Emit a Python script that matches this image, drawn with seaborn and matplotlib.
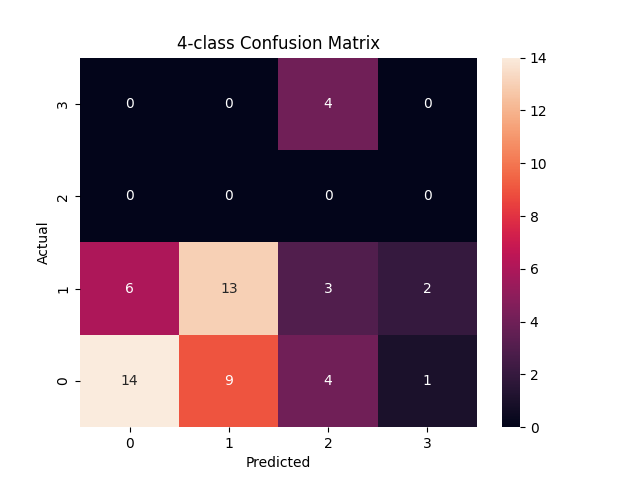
import matplotlib
matplotlib.use("Agg")
import matplotlib.pyplot as plt
import seaborn as sns
import numpy as np

classes = [0, 1, 2, 3]
row_actual0 = [14, 9, 4, 1]
row_actual1 = [6, 13, 3, 2]
row_actual2 = [0, 0, 0, 0]
row_actual3 = [0, 0, 4, 0]

cm = np.array([row_actual0, row_actual1, row_actual2, row_actual3])

fig, ax = plt.subplots(figsize=(6.4, 4.8), dpi=100)
sns.heatmap(cm, annot=True, fmt="d", ax=ax, xticklabels=classes, yticklabels=classes)
ax.invert_yaxis()
ax.set_xlabel("Predicted")
ax.set_ylabel("Actual")
ax.set_title("4-class Confusion Matrix")
fig.savefig("out.png")
